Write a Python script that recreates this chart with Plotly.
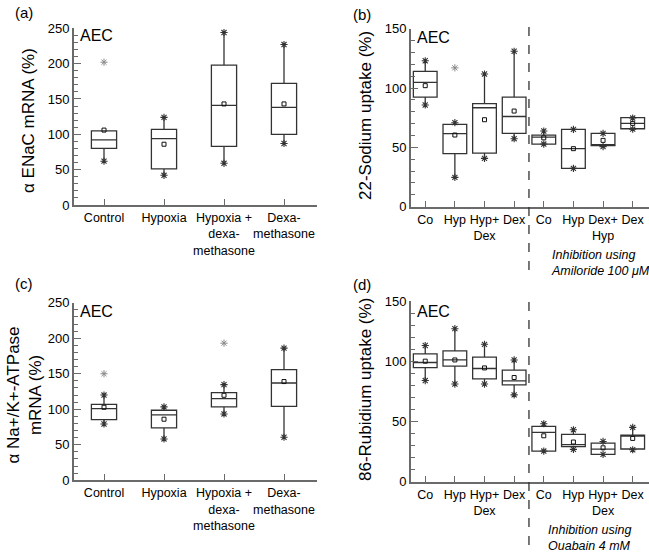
import plotly.graph_objects as go

W, H = 649, 553

# ---------------- data ----------------
# Panel (a): alpha ENaC mRNA (%)
a_labels = ["Control", "Hypoxia", "Hypoxia +<br>dexa-<br>methasone", "Dexa-<br>methasone"]
a_q1 = [80, 51, 83, 100]
a_med = [92, 94, 141, 138]
a_q3 = [105, 107, 198, 172]
a_lo = [62, 42, 59, 87]
a_hi = [105, 124, 244, 227]
a_lo_mark = [62, 42, 59, 87]
a_hi_mark = [None, 124, 244, 227]
a_mean = [106, 86, 143, 143]
a_out_x = [0]
a_out_y = [202]

# Panel (b): 22-Sodium uptake (%)
b_labels = ["Co", "Hyp", "Hyp+<br>Dex", "Dex", "Co", "Hyp", "Dex+<br>Hyp", "Dex"]
b_q1 = [92.4, 44.7, 45.2, 61.8, 52.8, 32.3, 51.4, 65.7]
b_med = [104.8, 61.5, 83.4, 76, 58.7, 48.9, 52, 70.2]
b_q3 = [114, 69.4, 86.8, 92.4, 60.4, 65.2, 61.8, 75]
b_lo = [85.7, 24.7, 40.7, 57.3, 52.8, 32.3, 50.6, 65.4]
b_hi = [123, 70.8, 111.8, 131, 63.8, 65.2, 61.8, 75]
b_lo_mark = [85.7, 24.7, 40.7, 57.3, 52.8, 32.3, 50.6, 65.4]
b_hi_mark = [123, 70.8, 111.8, 131, 63.8, 65.2, 61.8, 74.7]
b_mean = [102, 60.4, 73.3, 80.6, 58, 48.9, 55.9, 70.2]
b_out_x = [1]
b_out_y = [117]

# Panel (c): alpha Na+/K+-ATPase mRNA (%)
c_labels = ["Control", "Hypoxia", "Hypoxia +<br>dexa-<br>methasone", "Dexa-<br>methasone"]
c_q1 = [85.4, 73.7, 103.3, 104.2]
c_med = [101, 92, 115, 137]
c_q3 = [107, 98.6, 123.5, 155.9]
c_lo = [79.3, 58.2, 93.4, 60.6]
c_hi = [120, 103.3, 134.7, 186]
c_lo_mark = [79.3, 58.2, 93.4, 60.6]
c_hi_mark = [120, 103.3, 134.7, 186]
c_mean = [102.8, 86, 119.7, 139]
c_out_x = [0, 2]
c_out_y = [150, 193]

# Panel (d): 86-Rubidium uptake (%)
d_labels = ["Co", "Hyp", "Hyp+<br>Dex", "Dex", "Co", "Hyp", "Hyp+<br>Dex", "Dex"]
d_q1 = [94.7, 95.8, 85.3, 80.3, 25.3, 28.9, 22.5, 27]
d_med = [98.9, 101, 93.9, 83.6, 40.8, 30.6, 26.9, 37.8]
d_q3 = [106, 108.6, 103.3, 92.5, 45.8, 39.2, 31.9, 38.6]
d_lo = [83.9, 81, 81, 72, 25.3, 26.7, 22.5, 26.4]
d_hi = [113, 127, 114, 101, 48, 43, 33.3, 45]
d_lo_mark = [83.9, 81, 81, 72, 25.3, 26.7, 22.5, 26.4]
d_hi_mark = [113, 127, 114, 101, 48, 43, 33.3, 45]
d_mean = [100, 101, 94.4, 86.4, 38, 32.8, 28, 35.8]
d_out_x = []
d_out_y = []

FONT = "Liberation Sans, Arial, Helvetica, sans-serif"
BOXC = "#333333"
AXC = "#6a6a6a"

fig = go.Figure()


def add_panel(n, labels, q1, med, q3, lo, hi, lo_mark, hi_mark, mean, ox, oy, bw):
    xa = "x" if n == 1 else f"x{n}"
    ya = "y" if n == 1 else f"y{n}"
    pos = list(range(len(labels)))
    fig.add_trace(go.Box(
        x=pos, q1=q1, median=med, q3=q3, lowerfence=lo, upperfence=hi,
        width=bw, whiskerwidth=0, boxpoints=False,
        fillcolor="white", line=dict(color=BOXC, width=1.3),
        xaxis=xa, yaxis=ya, showlegend=False))
    mx = [p for p, v in zip(pos, lo_mark) if v is not None] + \
         [p for p, v in zip(pos, hi_mark) if v is not None]
    my = [v for v in lo_mark if v is not None] + [v for v in hi_mark if v is not None]
    fig.add_trace(go.Scatter(
        x=mx, y=my, mode="markers",
        marker=dict(symbol="asterisk-open", size=6, color=BOXC,
                    line=dict(width=1.1, color=BOXC)),
        xaxis=xa, yaxis=ya, showlegend=False))
    fig.add_trace(go.Scatter(
        x=pos, y=mean, mode="markers",
        marker=dict(symbol="square-open", size=4, color="#111",
                    line=dict(width=1, color="#111")),
        xaxis=xa, yaxis=ya, showlegend=False))
    if ox:
        fig.add_trace(go.Scatter(
            x=ox, y=oy, mode="markers",
            marker=dict(symbol="asterisk-open", size=6, color="#888",
                        line=dict(width=1, color="#888")),
            xaxis=xa, yaxis=ya, showlegend=False))


add_panel(1, a_labels, a_q1, a_med, a_q3, a_lo, a_hi, a_lo_mark, a_hi_mark, a_mean, a_out_x, a_out_y, 0.42)
add_panel(2, b_labels, b_q1, b_med, b_q3, b_lo, b_hi, b_lo_mark, b_hi_mark, b_mean, b_out_x, b_out_y, 0.8)
add_panel(3, c_labels, c_q1, c_med, c_q3, c_lo, c_hi, c_lo_mark, c_hi_mark, c_mean, c_out_x, c_out_y, 0.42)
add_panel(4, d_labels, d_q1, d_med, d_q3, d_lo, d_hi, d_lo_mark, d_hi_mark, d_mean, d_out_x, d_out_y, 0.8)


def px_x(p):
    return p / W


def px_y(p):
    return 1 - p / H


def xax(domain, labels, rng, anchor):
    return dict(domain=domain, range=rng, anchor=anchor, automargin=False,
                tickvals=list(range(len(labels))), ticktext=labels, tickangle=0,
                ticks="inside", ticklen=6, tickwidth=1.3, tickcolor=AXC,
                showline=True, linecolor=AXC, linewidth=2,
                showgrid=False, zeroline=False,
                tickfont=dict(family=FONT, size=12.5, color="black"))


def yax(domain, rng, anchor):
    return dict(domain=domain, range=rng, anchor=anchor, automargin=False,
                dtick=50, tick0=0,
                ticks="inside", ticklen=7, tickwidth=1.3, tickcolor=AXC,
                minor=dict(ticks="inside", ticklen=4, dtick=10, tickwidth=1.2,
                           tickcolor=AXC, showgrid=False),
                showline=True, linecolor=AXC, linewidth=2,
                showgrid=False, zeroline=False,
                tickfont=dict(family=FONT, size=13, color="black"))


xa_l = [px_x(74), px_x(317)]
xa_r = [px_x(411), 1.0]

fig.update_layout(
    width=W, height=H, autosize=False,
    margin=dict(l=0, r=0, t=0, b=0, pad=0),
    paper_bgcolor="white", plot_bgcolor="white",
    showlegend=False,
    xaxis=xax(xa_l, a_labels, [-0.5, 3.55], "y"),
    yaxis=yax([px_y(205), px_y(28.3)], [0, 250], "x"),
    xaxis2=xax(xa_r, b_labels, [-0.48, 7.55], "y2"),
    yaxis2=yax([px_y(206.7), px_y(28.7)], [0, 150], "x2"),
    xaxis3=xax(xa_l, c_labels, [-0.5, 3.55], "y3"),
    yaxis3=yax([px_y(480.3), px_y(302.7)], [0, 250], "x3"),
    xaxis4=xax(xa_r, d_labels, [-0.48, 7.55], "y4"),
    yaxis4=yax([px_y(481.5), px_y(301)], [0, 150], "x4"),
)

# dashed separators
fig.add_shape(type="line", xref="x2", yref="paper", x0=3.5, x1=3.5,
              y0=px_y(270), y1=px_y(22), line=dict(color="#333", width=1.3, dash="dash"))
fig.add_shape(type="line", xref="x4", yref="paper", x0=3.5, x1=3.5,
              y0=px_y(545), y1=px_y(295), line=dict(color="#333", width=1.3, dash="dash"))


def ann(text, x, y, size, xanchor="center", yanchor="middle", angle=0, italic=False, align="center"):
    fig.add_annotation(text=f"<i>{text}</i>" if italic else text,
                       xref="paper", yref="paper", x=px_x(x), y=px_y(y),
                       xanchor=xanchor, yanchor=yanchor, textangle=angle,
                       showarrow=False, align=align,
                       font=dict(family=FONT, size=size, color="black"))


# panel letters
ann("(a)", 24, 12, 15)
ann("(b)", 362, 15, 15)
ann("(c)", 24, 283, 15)
ann("(d)", 362, 284, 15)

# AEC labels
ann("AEC", 78, 35.5, 16, xanchor="left")
ann("AEC", 415, 37.5, 16, xanchor="left")
ann("AEC", 78, 311.5, 16, xanchor="left")
ann("AEC", 415, 311, 16, xanchor="left")

# y-axis titles
ann("α ENaC mRNA (%)", 28, 121, 17, angle=-90)
ann("22-Sodium uptake (%)", 365, 116, 17, angle=-90)
ann("α Na+/K+-ATPase<br>mRNA (%)", 23.5, 395, 17, angle=-90)
ann("86-Rubidium uptake (%)", 365, 390, 17, angle=-90)

# inhibition notes
ann("Inhibition using<br>Amiloride 100 μM", 549, 263, 12.5, xanchor="left", italic=True, align="left")
ann("Inhibition using<br>Ouabain 4 mM", 546, 538, 12.5, xanchor="left", italic=True, align="left")

fig.write_html("out.html", config={"displayModeBar": False},
               post_script="document.body.style.margin='0';document.body.style.overflow='hidden';")
